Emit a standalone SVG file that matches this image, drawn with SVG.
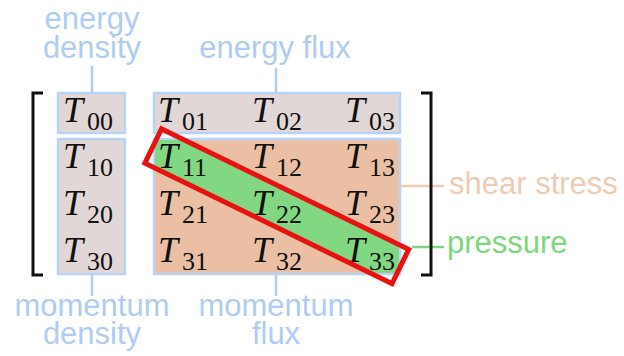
<svg xmlns="http://www.w3.org/2000/svg" width="624" height="356" viewBox="0 0 624 356">
<style>
.lbl{font-family:"Liberation Sans",Arial,sans-serif;font-size:31px;fill:#b0ccf3}
.T{font-family:"Liberation Serif","Times New Roman",serif;font-style:italic;font-size:36px;fill:#111}
.s{font-family:"Liberation Serif","Times New Roman",serif;font-size:26px;fill:#111}
.box{stroke:#b8d3f3;stroke-width:2.5}
.blue{stroke:#b0ccf3;stroke-width:2.5;fill:none}
.br{stroke:#111;stroke-width:3;fill:none}
</style>
<defs>
<clipPath id="cb"><rect x="155" y="140" width="244" height="133"/></clipPath>
</defs>
<rect width="624" height="356" fill="#fff"/>
<g id="connectors">
<line class="blue" x1="92" y1="66" x2="92" y2="93"/>
<line class="blue" x1="276" y1="68" x2="276" y2="93"/>
<line class="blue" x1="92" y1="274" x2="92" y2="296"/>
<line class="blue" x1="276" y1="274" x2="276" y2="296"/>
<line x1="400" y1="186" x2="444" y2="186" stroke="#f0cbb3" stroke-width="2.5"/>
<line x1="412" y1="247" x2="444" y2="247" stroke="#80d680" stroke-width="2.5"/>
</g>
<g id="energy-density-box"><rect class="box" x="58" y="93" width="67" height="40" fill="#e2d7d7"/></g>
<g id="momentum-density-box"><rect class="box" x="58" y="139" width="67" height="135" fill="#e2d7d7"/></g>
<g id="energy-flux-box"><rect class="box" x="154" y="93" width="246" height="40" fill="#e2d7d7"/></g>
<g id="momentum-flux-box"><rect class="box" x="154" y="139" width="246" height="135" fill="#eabfa4"/></g>
<g id="pressure-band" clip-path="url(#cb)">
<rect x="-137.5" y="-19" width="275" height="38" transform="translate(276.75,206.25) rotate(26)" fill="#82d882"/>
</g>
<g id="matrix">
<text class="T" x="63" y="122">T</text><text class="s" x="87" y="130">00</text>
<text class="T" x="158" y="122">T</text><text class="s" x="182" y="130">01</text>
<text class="T" x="252" y="122">T</text><text class="s" x="276" y="130">02</text>
<text class="T" x="345" y="122">T</text><text class="s" x="369" y="130">03</text>
<text class="T" x="63" y="168">T</text><text class="s" x="87" y="176">10</text>
<text class="T" x="158" y="168">T</text><text class="s" x="182" y="176">11</text>
<text class="T" x="252" y="168">T</text><text class="s" x="276" y="176">12</text>
<text class="T" x="345" y="168">T</text><text class="s" x="369" y="176">13</text>
<text class="T" x="63" y="215">T</text><text class="s" x="87" y="223">20</text>
<text class="T" x="158" y="215">T</text><text class="s" x="182" y="223">21</text>
<text class="T" x="252" y="215">T</text><text class="s" x="276" y="223">22</text>
<text class="T" x="345" y="215">T</text><text class="s" x="369" y="223">23</text>
<text class="T" x="63" y="262">T</text><text class="s" x="87" y="270">30</text>
<text class="T" x="158" y="262">T</text><text class="s" x="182" y="270">31</text>
<text class="T" x="252" y="262">T</text><text class="s" x="276" y="270">32</text>
<text class="T" x="345" y="262">T</text><text class="s" x="369" y="270">33</text>
</g>
<g id="pressure-outline">
<rect x="-137.5" y="-19" width="275" height="38" transform="translate(276.75,206.25) rotate(26)" fill="none" stroke="#e81212" stroke-width="5"/>
</g>
<g id="brackets">
<path class="br" d="M43,93 H33 V275 H43"/>
<path class="br" d="M421,93 H431 V275 H421"/>
</g>
<g id="labels">
<text class="lbl" x="92" y="29" text-anchor="middle">energy</text>
<text class="lbl" x="92" y="58" text-anchor="middle">density</text>
<text class="lbl" x="275" y="58" text-anchor="middle">energy flux</text>
<text class="lbl" x="92" y="316" text-anchor="middle">momentum</text>
<text class="lbl" x="92" y="344" text-anchor="middle">density</text>
<text class="lbl" x="276" y="316" text-anchor="middle">momentum</text>
<text class="lbl" x="276" y="344" text-anchor="middle">flux</text>
<text class="lbl" x="449" y="194" style="fill:#f0cbb3">shear stress</text>
<text class="lbl" x="447" y="253" style="fill:#80d680">pressure</text>
</g>
</svg>
